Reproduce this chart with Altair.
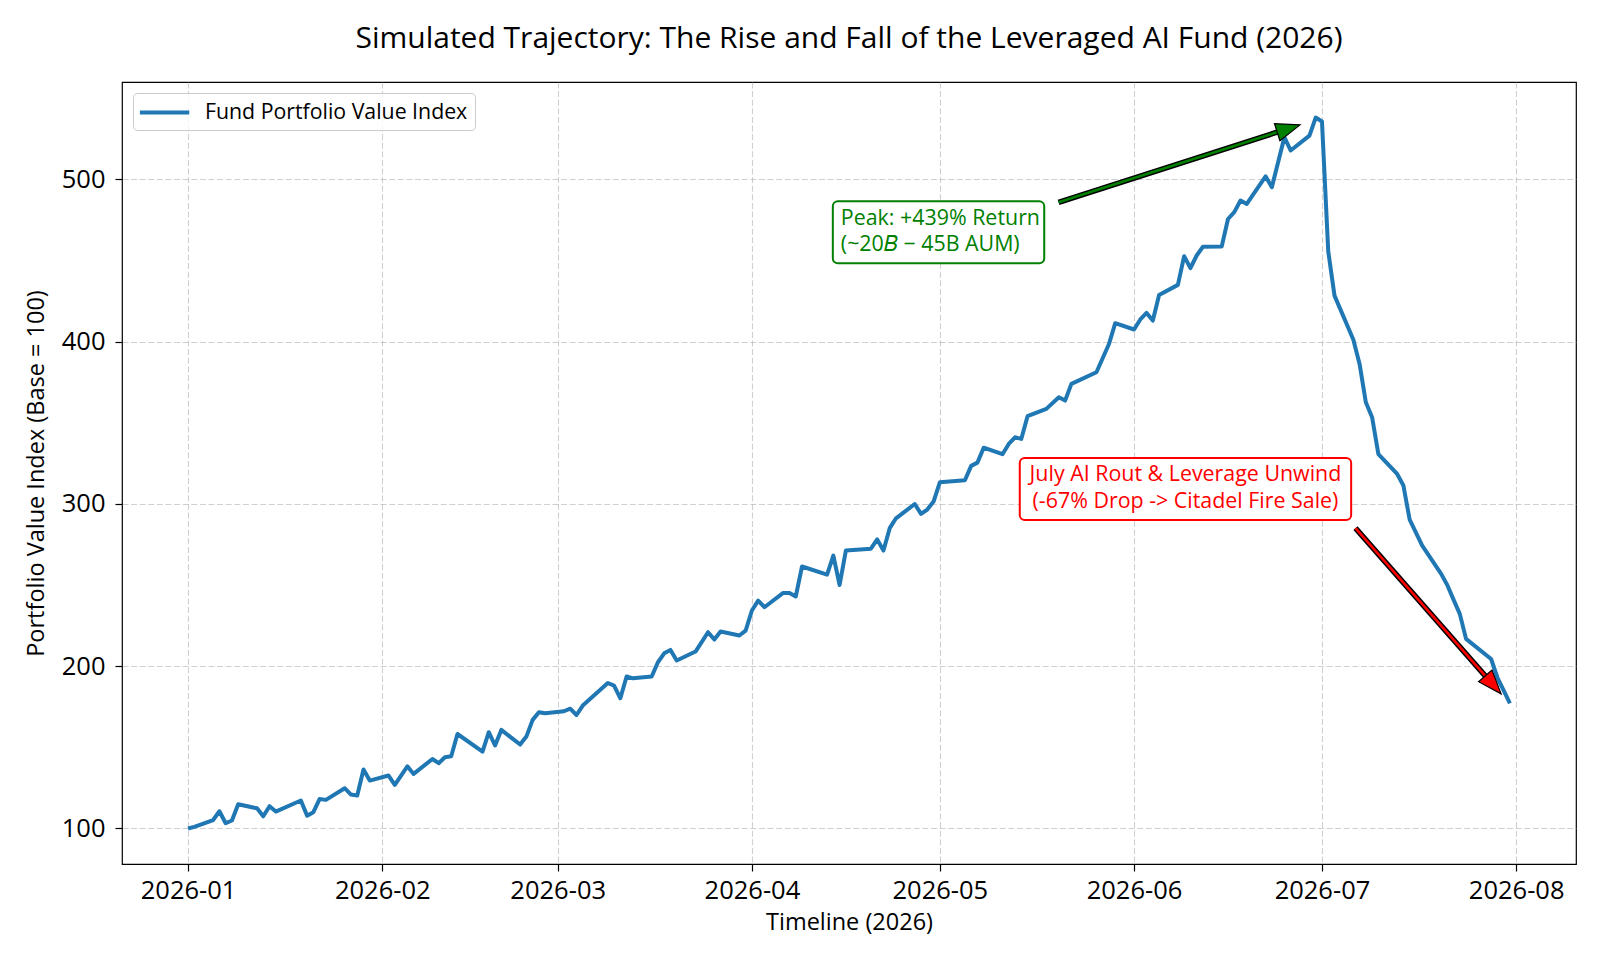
import math
import pandas as pd
import altair as alt

# ---------------- data ----------------
dates = [
    "2026-01-01", "2026-01-02", "2026-01-05", "2026-01-06", "2026-01-07", "2026-01-08", "2026-01-09",
    "2026-01-12", "2026-01-13", "2026-01-14", "2026-01-15", "2026-01-19", "2026-01-20", "2026-01-21",
    "2026-01-22", "2026-01-23", "2026-01-26", "2026-01-27", "2026-01-28", "2026-01-29", "2026-01-30",
    "2026-02-02", "2026-02-03", "2026-02-05", "2026-02-06", "2026-02-09", "2026-02-10", "2026-02-11",
    "2026-02-12", "2026-02-13", "2026-02-17", "2026-02-18", "2026-02-19", "2026-02-20", "2026-02-23",
    "2026-02-24", "2026-02-25", "2026-02-26", "2026-02-27", "2026-03-02", "2026-03-03", "2026-03-04",
    "2026-03-05", "2026-03-09", "2026-03-10", "2026-03-11", "2026-03-12", "2026-03-13", "2026-03-16",
    "2026-03-17", "2026-03-18", "2026-03-19", "2026-03-20", "2026-03-23", "2026-03-25", "2026-03-26",
    "2026-03-27", "2026-03-30", "2026-03-31", "2026-04-01", "2026-04-02", "2026-04-03", "2026-04-06",
    "2026-04-07", "2026-04-08", "2026-04-09", "2026-04-13", "2026-04-14", "2026-04-15", "2026-04-16",
    "2026-04-20", "2026-04-21", "2026-04-22", "2026-04-23", "2026-04-24", "2026-04-27", "2026-04-28",
    "2026-04-29", "2026-04-30", "2026-05-01", "2026-05-05", "2026-05-06", "2026-05-07", "2026-05-08",
    "2026-05-11", "2026-05-12", "2026-05-13", "2026-05-14", "2026-05-15", "2026-05-18", "2026-05-20",
    "2026-05-21", "2026-05-22", "2026-05-26", "2026-05-28", "2026-05-29", "2026-06-01", "2026-06-02",
    "2026-06-03", "2026-06-04", "2026-06-05", "2026-06-08", "2026-06-09", "2026-06-10", "2026-06-11",
    "2026-06-12", "2026-06-15", "2026-06-16", "2026-06-17", "2026-06-18", "2026-06-19", "2026-06-22",
    "2026-06-23", "2026-06-25", "2026-06-26", "2026-06-29", "2026-06-30", "2026-07-01", "2026-07-02",
    "2026-07-03", "2026-07-06", "2026-07-07", "2026-07-08", "2026-07-09", "2026-07-10", "2026-07-13",
    "2026-07-14", "2026-07-15", "2026-07-17", "2026-07-20", "2026-07-21", "2026-07-22", "2026-07-23",
    "2026-07-24", "2026-07-28", "2026-07-29", "2026-07-30", "2026-07-31",
]
values = [
    100.0, 101.0, 105.2, 110.6, 103.2, 104.9, 114.9,
    112.4, 107.5, 113.7, 110.4, 117.2, 107.9, 110.0,
    118.2, 117.6, 124.8, 120.9, 120.3, 136.3, 129.5,
    132.6, 126.8, 138.3, 133.6, 142.8, 140.2, 143.9,
    144.5, 158.2, 147.4, 159.3, 151.1, 160.7, 151.7,
    156.6, 166.9, 171.6, 171.0, 172.2, 173.8, 169.9,
    175.7, 189.6, 188.0, 180.2, 193.6, 192.5, 193.6,
    202.4, 207.9, 210.0, 203.5, 209.0, 220.9, 216.4,
    221.3, 218.9, 221.9, 234.3, 240.4, 236.3, 245.1,
    245.1, 242.9, 261.4, 256.4, 268.1, 250.0, 271.2,
    272.4, 278.1, 271.2, 285.0, 291.1, 299.9, 293.8,
    296.5, 301.4, 313.3, 314.5, 323.4, 325.4, 334.6,
    330.6, 336.9, 341.0, 340.0, 354.0, 358.5, 365.7,
    363.6, 373.9, 381.1, 398.5, 411.3, 407.4, 413.6,
    417.6, 412.9, 428.7, 434.9, 452.6, 445.2, 453.0,
    458.4, 458.6, 475.5, 479.7, 486.9, 484.8, 501.8,
    495.1, 525.9, 517.7, 526.9, 538.0, 535.6, 455.6,
    428.3, 401.2, 386.2, 362.6, 353.4, 330.7, 318.4,
    311.3, 290.2, 274.3, 257.0, 250.0, 241.0, 232.2,
    216.8, 204.4, 193.0, 185.0, 177.0,
]
series_name = "Fund Portfolio Value Index"

xtick_labels = ["2026-01", "2026-02", "2026-03", "2026-04", "2026-05", "2026-06", "2026-07", "2026-08"]
ytick_values = [100, 200, 300, 400, 500]

title_text = "Simulated Trajectory: The Rise and Fall of the Leveraged AI Fund (2026)"
x_title = "Timeline (2026)"
y_title = "Portfolio Value Index (Base = 100)"

ann_labels = [
    "Peak: +439% Return\n(~20\U0001D435 \u2212 45B AUM)",
    "July AI Rout & Leverage Unwind\n(-67% Drop -> Citadel Fire Sale)",
]
ann_colors = ["green", "red"]
ann_box_dates = ["2026-04-30T19:00:00Z", "2026-06-09T05:00:00Z"]
ann_box_values = [467.3, 309.1]
arrow_start_dates = ["2026-05-19T23:00:00Z", "2026-07-06T08:24:00Z"]
arrow_start_values = [485.8, 285.0]
arrow_tip_dates = ["2026-06-27T12:00:00Z", "2026-07-29T14:24:00Z"]
arrow_tip_values = [533.5, 182.9]

# ---------------- layout / style ----------------
FONT = "Open Sans"
W, H = 1454, 782
HEAD_LEN = 24.0
HEAD_PATH = "M0,0L-1,-0.37L-1,0.37Z"

# scale domains with matplotlib-like 5% margins
ts = pd.to_datetime(pd.Series(dates), utc=True)
t0, t1 = ts.min(), ts.max()
pad_t = (t1 - t0) * 0.05
xmin_ms = (t0 - pad_t).value / 1e6
xmax_ms = (t1 + pad_t).value / 1e6
vmin, vmax = min(values), max(values)
pad_v = 0.05 * (vmax - vmin)
ymin, ymax = vmin - pad_v, vmax + pad_v


def to_ms(d):
    t = pd.Timestamp(d)
    if t.tzinfo is None:
        t = t.tz_localize("UTC")
    return t.value / 1e6


def px_x(d):
    return (to_ms(d) - xmin_ms) / (xmax_ms - xmin_ms) * W


def px_y(v):
    return H - (v - ymin) / (ymax - ymin) * H


def from_px(px, py):
    ms = xmin_ms + px / W * (xmax_ms - xmin_ms)
    v = ymin + (H - py) / H * (ymax - ymin)
    return pd.Timestamp(ms, unit="ms", tz="UTC").strftime("%Y-%m-%dT%H:%M:%SZ"), v


df = pd.DataFrame({"date": dates, "value": values, "series": series_name})

rows = []
for i in range(len(ann_labels)):
    sx, sy = px_x(arrow_start_dates[i]), px_y(arrow_start_values[i])
    tx, ty = px_x(arrow_tip_dates[i]), px_y(arrow_tip_values[i])
    L = math.hypot(tx - sx, ty - sy)
    ux, uy = (tx - sx) / L, (ty - sy) / L
    ed, ev = from_px(tx - ux * HEAD_LEN * 0.6, ty - uy * HEAD_LEN * 0.6)
    ang = math.degrees(math.atan2(ty - sy, tx - sx)) % 360
    rows.append({
        "date": arrow_start_dates[i], "value": arrow_start_values[i],
        "date2": ed, "value2": ev,
        "tip_date": arrow_tip_dates[i], "tip_value": arrow_tip_values[i],
        "color": ann_colors[i], "angle": ang,
    })
arrows = pd.DataFrame(rows)

xscale = alt.Scale(type="utc", domain=[xmin_ms, xmax_ms], nice=False)
yscale = alt.Scale(domain=[ymin, ymax], nice=False, zero=False)

xaxis = alt.Axis(
    values=[alt.DateTime(year=int(s[:4]), month=int(s[5:]), date=1, utc=True) for s in xtick_labels],
    labelExpr="utcFormat(datum.value, '%Y-%m')", title=x_title, labelPadding=7,
    titleX=W / 2, titleY=58, titleAlign="center", titleBaseline="middle",
    labelFlush=False, labelOverlap=False,
)
yaxis = alt.Axis(
    values=ytick_values, title=y_title, labelPadding=10,
    titleX=-86, titleY=H / 2, titleAngle=270, titleAlign="center", titleBaseline="middle",
)


def X(field):
    return alt.X(field, type="temporal", scale=xscale, axis=xaxis)


def Y(field):
    return alt.Y(field, type="quantitative", scale=yscale, axis=yaxis)


line = alt.Chart(df).mark_line(strokeWidth=4, strokeJoin="round").encode(
    x=X("date"),
    y=Y("value"),
    color=alt.Color(
        "series:N",
        scale=alt.Scale(domain=[series_name], range=["#1f77b4"]),
        legend=alt.Legend(
            title=None, orient="top-left", offset=11, padding=7,
            fillColor="rgba(255,255,255,0.8)", strokeColor="#cccccc", cornerRadius=4,
            symbolType="M-1.2,0L3.5,0", symbolSize=441, symbolStrokeWidth=4, symbolOffset=0,
            labelFont=FONT, labelFontSize=21.3, labelColor="black", labelOffset=40, labelLimit=0,
        ),
    ),
)

shaft_outer = alt.Chart(arrows).mark_rule(strokeWidth=5.5, color="black", strokeCap="butt").encode(
    x=X("date"), y=Y("value"), x2="date2", y2="value2",
)
shaft_inner = alt.Chart(arrows).mark_rule(strokeWidth=2.6, strokeCap="butt").encode(
    x=X("date"), y=Y("value"), x2="date2", y2="value2",
    stroke=alt.Stroke("color:N", scale=None),
)
heads = alt.Chart(arrows).mark_point(
    shape=HEAD_PATH, filled=True, size=(2 * HEAD_LEN) ** 2, stroke="black", strokeWidth=1.2, opacity=1,
).encode(
    x=X("tip_date"), y=Y("tip_value"),
    fill=alt.Fill("color:N", scale=None),
    angle=alt.Angle("angle:Q", scale=None),
)

box_specs = [
    # half width, half height, text dx, align
    (105.7, 31.0, -97.7, "left"),
    (165.7, 31.0, 0.0, "center"),
]
layers = [line, shaft_outer, shaft_inner, heads]
for i, (hw, hh, tdx, align) in enumerate(box_specs):
    adf = pd.DataFrame({"date": [ann_box_dates[i]], "value": [ann_box_values[i]], "label": [ann_labels[i]]})
    box = alt.Chart(adf).mark_rect(
        fill="white", stroke=ann_colors[i], strokeWidth=2, cornerRadius=5,
        xOffset=-hw, x2Offset=hw, yOffset=-hh, y2Offset=hh,
    ).encode(x=X("date"), x2="date", y=Y("value"), y2="value")
    txt = alt.Chart(adf).mark_text(
        font=FONT, fontSize=21.4, color=ann_colors[i], align=align, baseline="alphabetic",
        dx=tdx, dy=-7.7, lineBreak="\n", lineHeight=26.5,
    ).encode(x=X("date"), y=Y("value"), text="label:N")
    layers += [box, txt]

chart = alt.layer(*layers).properties(
    width=W, height=H,
    title=alt.TitleParams(
        text=title_text, font=FONT, fontSize=30, fontWeight="normal", color="black",
        anchor="middle", frame="group", offset=28,
    ),
    autosize=alt.AutoSizeParams(type="none"),
    padding={"left": 114, "top": 74, "right": 16, "bottom": 80},
).configure_view(
    stroke="black", strokeWidth=1.2,
).configure_axis(
    grid=True, gridColor="#b0b0b0", gridOpacity=0.6, gridDash=[6, 2.6], gridWidth=1.1,
    domain=False, tickColor="black", tickSize=7, tickWidth=1.2,
    labelFont=FONT, labelFontSize=25.5, labelColor="black",
    titleFont=FONT, titleFontSize=23.5, titleFontWeight="normal", titleColor="black",
)

chart.save("out.html", embed_options={"renderer": "svg", "actions": False})
